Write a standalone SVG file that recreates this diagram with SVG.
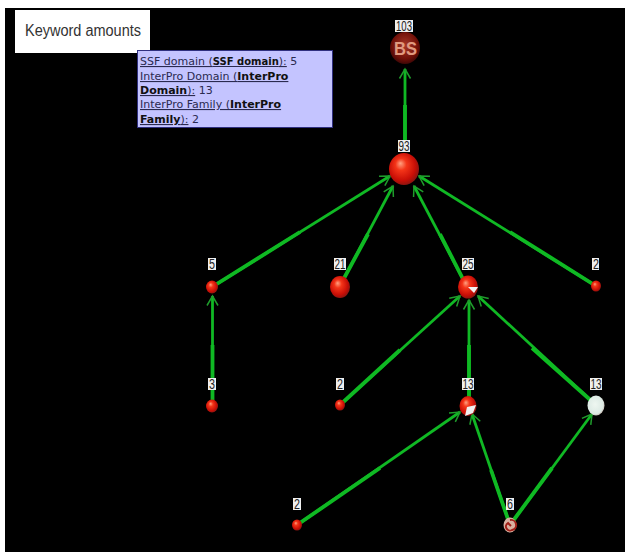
<svg xmlns="http://www.w3.org/2000/svg" width="625" height="552" viewBox="0 0 625 552">
<style>
/* each connector tapers: a heavier tail half under a slimmer full-length shaft */
.edge{stroke:#10b824;stroke-width:2.800;fill:none;marker-end:url(#arrow)}
.tail{stroke:#0cc020;stroke-width:3.800;fill:none}
.count{font:14.500px "Liberation Sans",Arial,sans-serif;fill:#222;text-anchor:middle}
.tag{fill:#efefef}
.tip{font:11px "DejaVu Sans",sans-serif;fill:#2a2a50}
.tip-link{text-decoration:underline}
.tip-strong{font-weight:bold;fill:#111}
</style>
<defs>
<marker id="arrow" markerUnits="userSpaceOnUse" markerWidth="16" markerHeight="16" refX="13" refY="8" orient="auto">
<path d="M3.500 2.500 L13 8 L3.500 13.500" fill="none" stroke="#1f9c2c" stroke-width="1.500"/>
</marker>
<radialGradient id="ball" cx="0.45" cy="0.45" r="0.62" fx="0.38" fy="0.32">
<stop offset="0" stop-color="#ffa080"/><stop offset="0.3" stop-color="#f43418"/><stop offset="0.72" stop-color="#c80e06"/><stop offset="0.92" stop-color="#8c1410"/><stop offset="1" stop-color="#5a2020"/>
</radialGradient>
<radialGradient id="root" cx="0.5" cy="0.42" r="0.6">
<stop offset="0" stop-color="#a83828"/><stop offset="0.7" stop-color="#701008"/><stop offset="1" stop-color="#380606"/>
</radialGradient>
<radialGradient id="pale" cx="0.45" cy="0.45" r="0.6">
<stop offset="0" stop-color="#eef6f0"/><stop offset="0.78" stop-color="#dceae4"/><stop offset="1" stop-color="#c0a8a0"/>
</radialGradient>
</defs>
<rect width="625" height="552" fill="#fff"/>
<rect x="5" y="8" width="620" height="544" fill="#000"/>

<g id="connectors">
<g><line class="tail" x1="405" y1="150" x2="405" y2="105"/><line class="edge" x1="405" y1="150" x2="405" y2="69"/></g>
<g><line class="tail" x1="212" y1="287" x2="300" y2="232"/><line class="edge" x1="212" y1="287" x2="390" y2="176"/></g>
<g><line class="tail" x1="342" y1="282" x2="368" y2="234"/><line class="edge" x1="342" y1="282" x2="393" y2="186"/></g>
<g><line class="tail" x1="465" y1="283" x2="440" y2="234"/><line class="edge" x1="465" y1="283" x2="414" y2="186"/></g>
<g><line class="tail" x1="596" y1="286" x2="510" y2="232"/><line class="edge" x1="596" y1="286" x2="419" y2="176"/></g>
<g><line class="tail" x1="212.500" y1="405" x2="212.500" y2="345"/><line class="edge" x1="212.500" y1="405" x2="212.500" y2="296"/></g>
<g><line class="tail" x1="340" y1="405" x2="400" y2="350"/><line class="edge" x1="340" y1="405" x2="460" y2="296"/></g>
<g><line class="tail" x1="469" y1="405" x2="469" y2="345"/><line class="edge" x1="469" y1="405" x2="469" y2="300"/></g>
<g><line class="tail" x1="596" y1="405" x2="532" y2="348"/><line class="edge" x1="596" y1="405" x2="478" y2="296"/></g>
<g><line class="tail" x1="297" y1="525" x2="380" y2="468"/><line class="edge" x1="297" y1="525" x2="460" y2="412"/></g>
<g><line class="tail" x1="510" y1="525" x2="491" y2="470"/><line class="edge" x1="510" y1="525" x2="472" y2="414"/></g>
<g><line class="tail" x1="510" y1="525" x2="552" y2="468"/><line class="edge" x1="510" y1="525" x2="592" y2="414"/></g>
</g>

<g id="node-103">
<ellipse cx="405" cy="48" rx="15" ry="16" fill="url(#root)"/>
<text x="405.500" y="55" font-family="Liberation Sans,sans-serif" font-size="18" font-weight="bold" fill="#e09a80" text-anchor="middle" textLength="23" lengthAdjust="spacingAndGlyphs">BS</text>
<rect class="tag" x="395" y="20" width="18" height="12"/><text class="count" x="404" y="31" textLength="16" lengthAdjust="spacingAndGlyphs">103</text>
</g>
<g id="node-93">
<ellipse cx="404" cy="169" rx="15" ry="16" fill="url(#ball)"/>
<rect class="tag" x="398" y="140" width="12" height="12"/><text class="count" x="404" y="151" textLength="11" lengthAdjust="spacingAndGlyphs">93</text>
</g>
<g id="node-5">
<ellipse cx="212" cy="287" rx="6" ry="6.500" fill="url(#ball)"/>
<rect class="tag" x="208" y="258" width="8" height="12"/><text class="count" x="212" y="269" textLength="6" lengthAdjust="spacingAndGlyphs">5</text>
</g>
<g id="node-21">
<ellipse cx="340" cy="287" rx="10" ry="11" fill="url(#ball)"/>
<rect class="tag" x="334" y="258" width="12" height="12"/><text class="count" x="340" y="269" textLength="11" lengthAdjust="spacingAndGlyphs">21</text>
</g>
<g id="node-25">
<ellipse cx="468" cy="287" rx="10" ry="11.500" fill="url(#ball)"/>
<path d="M468 287 L478 287 L474 293 Z" fill="#f0f0f0"/>
<rect class="tag" x="462" y="258" width="12" height="12"/><text class="count" x="468" y="269" textLength="11" lengthAdjust="spacingAndGlyphs">25</text>
</g>
<g id="node-2a">
<ellipse cx="596" cy="286" rx="5" ry="5.500" fill="url(#ball)"/>
<rect class="tag" x="592" y="258" width="7" height="12"/><text class="count" x="596" y="269" textLength="6" lengthAdjust="spacingAndGlyphs">2</text>
</g>
<g id="node-3">
<ellipse cx="212" cy="406" rx="6" ry="6.500" fill="url(#ball)"/>
<rect class="tag" x="208" y="378" width="8" height="12"/><text class="count" x="212" y="389" textLength="6" lengthAdjust="spacingAndGlyphs">3</text>
</g>
<g id="node-2b">
<ellipse cx="340" cy="405" rx="5" ry="5.500" fill="url(#ball)"/>
<rect class="tag" x="336" y="378" width="8" height="12"/><text class="count" x="340" y="389" textLength="6" lengthAdjust="spacingAndGlyphs">2</text>
</g>
<g id="node-13a">
<ellipse cx="468" cy="406" rx="8.500" ry="10" fill="url(#ball)"/>
<path d="M467 407 L476 405 L473 413 L465 416 Z" fill="#f0f0f0"/>
<rect class="tag" x="462" y="378" width="12" height="12"/><text class="count" x="468" y="389" textLength="11" lengthAdjust="spacingAndGlyphs">13</text>
</g>
<g id="node-13b">
<ellipse cx="596" cy="405.500" rx="8.500" ry="10" fill="url(#pale)"/>
<rect class="tag" x="590" y="378" width="12" height="12"/><text class="count" x="596" y="389" textLength="11" lengthAdjust="spacingAndGlyphs">13</text>
</g>
<g id="node-2c">
<ellipse cx="297" cy="525" rx="5" ry="5.500" fill="url(#ball)"/>
<rect class="tag" x="293" y="498" width="8" height="12"/><text class="count" x="297" y="509" textLength="6" lengthAdjust="spacingAndGlyphs">2</text>
</g>
<g id="node-6">
<ellipse cx="510" cy="525" rx="6.500" ry="7.500" fill="#d8b0a0"/>
<path d="M510 520 A5 5 0 0 1 512 530 A4 4 0 0 1 508 523 L511 526" fill="none" stroke="#a02018" stroke-width="2"/>
<rect class="tag" x="506" y="498" width="8" height="12"/><text class="count" x="510" y="509" textLength="6" lengthAdjust="spacingAndGlyphs">6</text>
</g>

<g id="legend">
<rect x="15" y="10" width="135" height="43" fill="#fff"/>
<text x="25" y="36" font-family="Liberation Sans,sans-serif" font-size="16" fill="#333" textLength="116" lengthAdjust="spacingAndGlyphs">Keyword amounts</text>
</g>
<g id="tooltip">
<rect x="137.500" y="50.500" width="195" height="77" fill="#c4c4ff" stroke="#303080"/>
<text class="tip" x="140" y="65"><tspan class="tip-link">SSF domain (<tspan class="tip-strong" font-size="10">SSF domain</tspan>):</tspan> 5</text>
<text class="tip" x="140" y="80"><tspan class="tip-link">InterPro Domain (<tspan class="tip-strong">InterPro</tspan></tspan></text>
<text class="tip" x="140" y="94"><tspan class="tip-link"><tspan class="tip-strong">Domain</tspan>):</tspan> 13</text>
<text class="tip" x="140" y="108"><tspan class="tip-link">InterPro Family (<tspan class="tip-strong">InterPro</tspan></tspan></text>
<text class="tip" x="140" y="123"><tspan class="tip-link"><tspan class="tip-strong">Family</tspan>):</tspan> 2</text>
</g>
</svg>
